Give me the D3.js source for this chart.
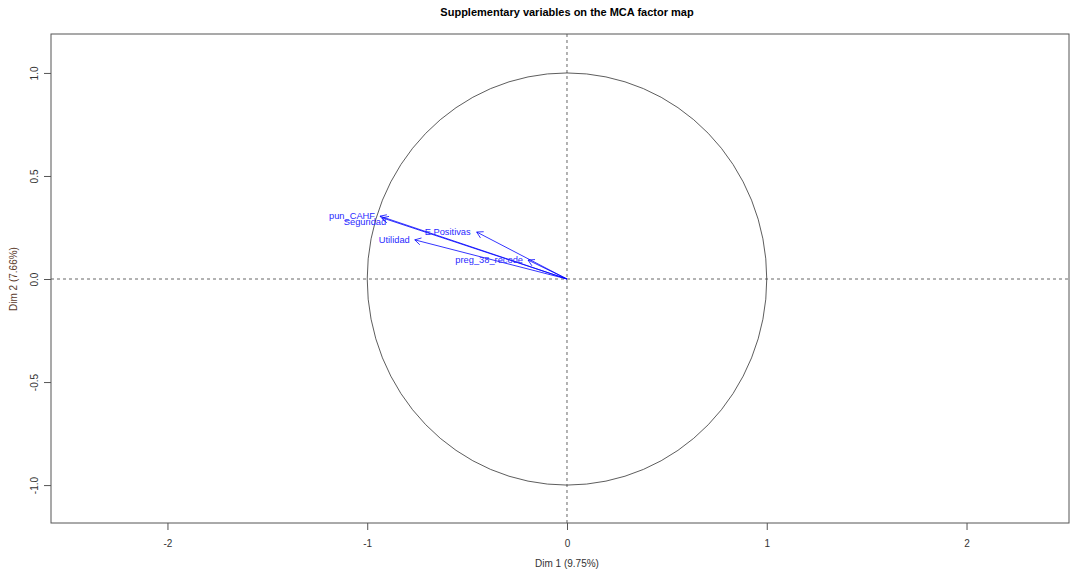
<!DOCTYPE html>
<html lang="en">
<head>
  <meta charset="UTF-8">
  <title>Supplementary variables on the MCA factor map</title>
  <script src="https://d3js.org/d3.v7.min.js"></script>
  <style>
    body {
      margin: 0;
      padding: 0;
      background: #fff;
      font-family: 'Liberation Sans', Arial, sans-serif;
    }
  </style>
</head>
<body>
  <div id="chart"></div>

  <script>
    // Supplementary quantitative variables (Dim 1, Dim 2 coordinates)
    const varNames = ['pun_CAHF', 'Seguridad', 'E.Positivas', 'Utilidad', 'preg_38_recode'];
    const dim1 = [-0.936, -0.925, -0.452, -0.762, -0.195];
    const dim2 = [0.305, 0.297, 0.228, 0.190, 0.092];

    const xTicks = [-2, -1, 0, 1, 2];
    const yTicks = [-1.0, -0.5, 0.0, 0.5, 1.0];

    const width = 1070;
    const height = 574;
    const margin = { top: 34, right: 1, bottom: 51, left: 51 };

    const svg = d3.select('#chart')
      .append('svg')
      .attr('width', width)
      .attr('height', height);

    const x = d3.scaleLinear()
      .domain([-2.583, 2.513])
      .range([margin.left, width - margin.right]);

    const y = d3.scaleLinear()
      .domain([-1.184, 1.189])
      .range([height - margin.bottom, margin.top]);

    // R style minus (plain hyphen)
    const fmtX = d => d3.format('d')(d).replace('\u2212', '-');
    const fmtY = d => d3.format('.1f')(d).replace('\u2212', '-');

    // Title
    svg.append('text')
      .attr('x', 567)
      .attr('y', 16)
      .attr('text-anchor', 'middle')
      .style('font-size', '11px')
      .style('font-weight', 'bold')
      .text('Supplementary variables on the MCA factor map');

    // Dashed reference lines
    svg.append('line')
      .attr('x1', x(0)).attr('x2', x(0))
      .attr('y1', margin.top).attr('y2', height - margin.bottom)
      .attr('stroke', '#555').attr('stroke-width', 0.9).attr('stroke-dasharray', '3,3');
    svg.append('line')
      .attr('x1', margin.left).attr('x2', width - margin.right)
      .attr('y1', y(0)).attr('y2', y(0))
      .attr('stroke', '#555').attr('stroke-width', 0.9).attr('stroke-dasharray', '3,3');

    // Correlation circle
    svg.append('ellipse')
      .attr('cx', x(0)).attr('cy', y(0))
      .attr('rx', x(1) - x(0)).attr('ry', y(0) - y(1))
      .attr('fill', 'none')
      .attr('stroke', '#333')
      .attr('stroke-width', 0.8);

    // Frame
    svg.append('rect')
      .attr('x', margin.left).attr('y', margin.top)
      .attr('width', width - margin.left - margin.right)
      .attr('height', height - margin.top - margin.bottom)
      .attr('fill', 'none')
      .attr('stroke', '#555');

    // Axes
    const xAxis = svg.append('g')
      .attr('transform', `translate(0,${height - margin.bottom})`)
      .call(d3.axisBottom(x).tickValues(xTicks).tickSize(7).tickPadding(10).tickFormat(fmtX));
    const yAxis = svg.append('g')
      .attr('transform', `translate(${margin.left},0)`)
      .call(d3.axisLeft(y).tickValues(yTicks).tickSize(7).tickPadding(8).tickFormat(fmtY));

    [xAxis, yAxis].forEach(g => {
      g.select('.domain').remove();
      g.selectAll('.tick line').attr('stroke', '#555');
      g.selectAll('.tick text')
        .attr('fill', '#333')
        .style('font-size', '10px')
        .style('font-family', "'Liberation Sans', Arial, sans-serif");
    });
    yAxis.selectAll('.tick text')
      .attr('text-anchor', 'middle')
      .attr('transform', function () {
        const t = d3.select(this);
        return `translate(${+t.attr('x') - 2},0) rotate(-90)`;
      })
      .attr('x', 0)
      .attr('dy', '0.35em');

    // Axis titles
    svg.append('text')
      .attr('x', 567)
      .attr('y', 567)
      .attr('text-anchor', 'middle')
      .attr('fill', '#333')
      .style('font-size', '10px')
      .text('Dim 1 (9.75%)');
    svg.append('text')
      .attr('transform', `translate(17,${y(0)}) rotate(-90)`)
      .attr('text-anchor', 'middle')
      .attr('fill', '#5a3a2a')
      .style('font-size', '10px')
      .text('Dim 2 (7.66%)');

    // Arrows
    const headLen = 7;
    const headAng = Math.PI / 6;
    varNames.forEach((name, i) => {
      const x0 = x(0), y0 = y(0);
      const x1 = x(dim1[i]), y1 = y(dim2[i]);
      const a = Math.atan2(y1 - y0, x1 - x0);
      svg.append('line')
        .attr('x1', x0).attr('y1', y0)
        .attr('x2', x1).attr('y2', y1)
        .attr('stroke', 'blue')
        .attr('stroke-width', 0.8);
      svg.append('path')
        .attr('d', `M${x1 - headLen * Math.cos(a - headAng)},${y1 - headLen * Math.sin(a - headAng)}L${x1},${y1}L${x1 - headLen * Math.cos(a + headAng)},${y1 - headLen * Math.sin(a + headAng)}`)
        .attr('fill', 'none')
        .attr('stroke', 'blue')
        .attr('stroke-width', 0.8);
    });

    // Labels (placed to the left of the arrow tips, nudged where they overlap)
    const labelShift = [[-5, 0], [4, 4], [-6, 0], [-5, 0], [-5, 0]];
    varNames.forEach((name, i) => {
      svg.append('text')
        .attr('x', x(dim1[i]) + labelShift[i][0])
        .attr('y', y(dim2[i]) + labelShift[i][1])
        .attr('dy', '0.35em')
        .attr('text-anchor', 'end')
        .attr('fill', '#2a2aff')
        .style('font-size', '9.3px')
        .text(name);
    });
  </script>
</body>
</html>
